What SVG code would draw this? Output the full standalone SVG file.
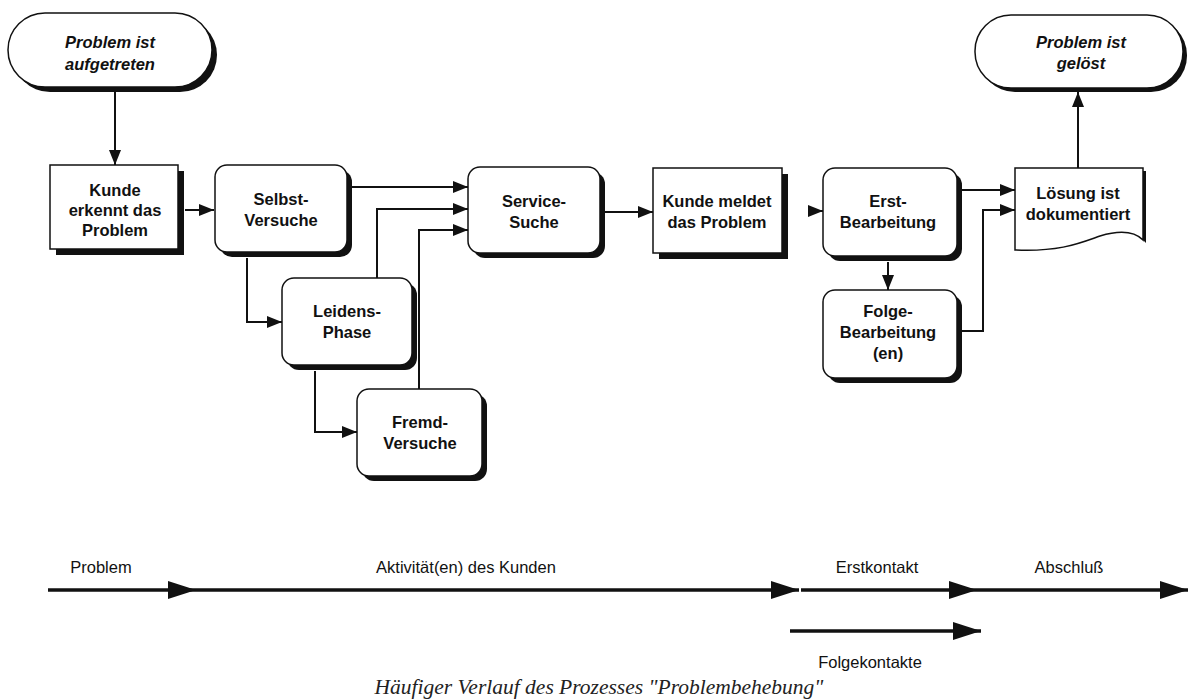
<svg xmlns="http://www.w3.org/2000/svg" width="1196" height="700" viewBox="0 0 1196 700">
  <defs>
    <style>
      .shape { fill: #ffffff; stroke: #111111; stroke-width: 1.5; }
      .shadow { fill: #111111; }
      .label { font-family: "Liberation Sans", Arial, sans-serif; font-weight: bold; font-size: 16.5px; fill: #111111; text-anchor: middle; }
      .term { font-style: italic; }
      .conn { fill: none; stroke: #111111; stroke-width: 2; marker-end: url(#arrow); }
      .axis { fill: none; stroke: #111111; stroke-width: 3.5; marker-end: url(#bigarrow); }
      .axislabel { font-family: "Liberation Sans", Arial, sans-serif; font-size: 16.5px; fill: #111111; text-anchor: middle; }
      .caption { font-family: "Liberation Serif", "Times New Roman", serif; font-style: italic; font-size: 21.5px; fill: #222222; text-anchor: middle; }
    </style>
    <marker id="arrow" markerUnits="userSpaceOnUse" markerWidth="15" markerHeight="12" refX="15" refY="6" orient="auto">
      <path d="M0,0 L15,6 L0,12 z" fill="#111111"/>
    </marker>
    <marker id="bigarrow" markerUnits="userSpaceOnUse" markerWidth="28" markerHeight="18" refX="28" refY="9" orient="auto">
      <path d="M0,0 L28,9 L0,18 z" fill="#111111"/>
    </marker>
  </defs>

  <rect width="1196" height="700" fill="#ffffff"/>

  <!-- connectors -->
  <g id="connectors">
    <path class="conn" d="M115,92 V165"/>
    <path class="conn" d="M185,210 H214"/>
    <path class="conn" d="M352,187 H468"/>
    <path class="conn" d="M377,278 V209 H468"/>
    <path class="conn" d="M419,389 V230 H468"/>
    <path class="conn" d="M247,258 V322 H282"/>
    <path class="conn" d="M315,371 V432 H357"/>
    <path class="conn" d="M605,212 H653"/>
    <path class="conn" d="M808,211 H823"/>
    <path class="conn" d="M962,190 H1015"/>
    <path class="conn" d="M888,262 V290"/>
    <path class="conn" d="M962,331 H983 V210 H1015"/>
    <path class="conn" d="M1078,168 V92"/>
  </g>

  <!-- start terminal -->
  <g id="start">
    <rect class="shadow" x="13" y="18" width="204" height="74" rx="37"/>
    <rect class="shape" x="8" y="13" width="204" height="74" rx="37"/>
    <text class="label term" x="110" y="48">Problem ist</text>
    <text class="label term" x="110" y="70">aufgetreten</text>
  </g>

  <g id="kunde-erkennt">
    <rect class="shadow" x="56" y="171" width="128" height="84"/>
    <rect class="shape" x="50" y="165" width="128" height="84"/>
    <text class="label" x="115" y="196">Kunde</text>
    <text class="label" x="115" y="216">erkennt das</text>
    <text class="label" x="115" y="236">Problem</text>
  </g>

  <g id="selbst-versuche">
    <rect class="shadow" x="220" y="170" width="132" height="87" rx="12"/>
    <rect class="shape" x="215" y="165" width="132" height="87" rx="12"/>
    <text class="label" x="281" y="205">Selbst-</text>
    <text class="label" x="281" y="226">Versuche</text>
  </g>

  <g id="leidens-phase">
    <rect class="shadow" x="287" y="283" width="130" height="87" rx="12"/>
    <rect class="shape" x="282" y="278" width="130" height="87" rx="12"/>
    <text class="label" x="347" y="317">Leidens-</text>
    <text class="label" x="347" y="338">Phase</text>
  </g>

  <g id="fremd-versuche">
    <rect class="shadow" x="362" y="394" width="125" height="87" rx="12"/>
    <rect class="shape" x="357" y="389" width="125" height="87" rx="12"/>
    <text class="label" x="420" y="428">Fremd-</text>
    <text class="label" x="420" y="449">Versuche</text>
  </g>

  <g id="service-suche">
    <rect class="shadow" x="473" y="172" width="132" height="86" rx="12"/>
    <rect class="shape" x="468" y="167" width="132" height="86" rx="12"/>
    <text class="label" x="534" y="207">Service-</text>
    <text class="label" x="534" y="228">Suche</text>
  </g>

  <g id="kunde-meldet">
    <rect class="shadow" x="659" y="174" width="129" height="85"/>
    <rect class="shape" x="653" y="168" width="129" height="85"/>
    <text class="label" x="717" y="207">Kunde meldet</text>
    <text class="label" x="717" y="228">das Problem</text>
  </g>

  <g id="erst-bearbeitung">
    <rect class="shadow" x="828" y="173" width="134" height="88" rx="12"/>
    <rect class="shape" x="823" y="168" width="134" height="88" rx="12"/>
    <text class="label" x="888" y="207">Erst-</text>
    <text class="label" x="888" y="228">Bearbeitung</text>
  </g>

  <g id="folge-bearbeitung">
    <rect class="shadow" x="828" y="295" width="134" height="88" rx="12"/>
    <rect class="shape" x="823" y="290" width="134" height="88" rx="12"/>
    <text class="label" x="888" y="317">Folge-</text>
    <text class="label" x="888" y="338">Bearbeitung</text>
    <text class="label" x="888" y="359">(en)</text>
  </g>

  <!-- document shape -->
  <g id="loesung">
    <path class="shadow" d="M1143,171 H1146 V243 L1143,240 Z"/>
    <path class="shape" d="M1015,168 H1143 V240 C1135,232 1120,230 1100,236 C1080,243 1060,252 1015,250 Z"/>
    <text class="label" x="1078" y="199">Lösung ist</text>
    <text class="label" x="1078" y="220">dokumentiert</text>
  </g>

  <!-- end terminal -->
  <g id="end">
    <rect class="shadow" x="979" y="19" width="208" height="73" rx="36"/>
    <rect class="shape" x="975" y="15" width="208" height="73" rx="36"/>
    <text class="label term" x="1081" y="48">Problem ist</text>
    <text class="label term" x="1081" y="69">gelöst</text>
  </g>

  <!-- phase timeline -->
  <g id="timeline">
    <path class="axis" d="M48,590 H196"/>
    <path class="axis" d="M196,590 H799"/>
    <path class="axis" d="M801,590 H977"/>
    <path class="axis" d="M977,590 H1188"/>
    <path class="axis" d="M790,631 H981"/>
    <text class="axislabel" x="101" y="573">Problem</text>
    <text class="axislabel" x="466" y="573">Aktivität(en) des Kunden</text>
    <text class="axislabel" x="877" y="573">Erstkontakt</text>
    <text class="axislabel" x="1069" y="573">Abschluß</text>
    <text class="axislabel" x="870" y="668">Folgekontakte</text>
  </g>

  <text class="caption" x="599" y="694">Häufiger Verlauf des Prozesses "Problembehebung"</text>
</svg>
